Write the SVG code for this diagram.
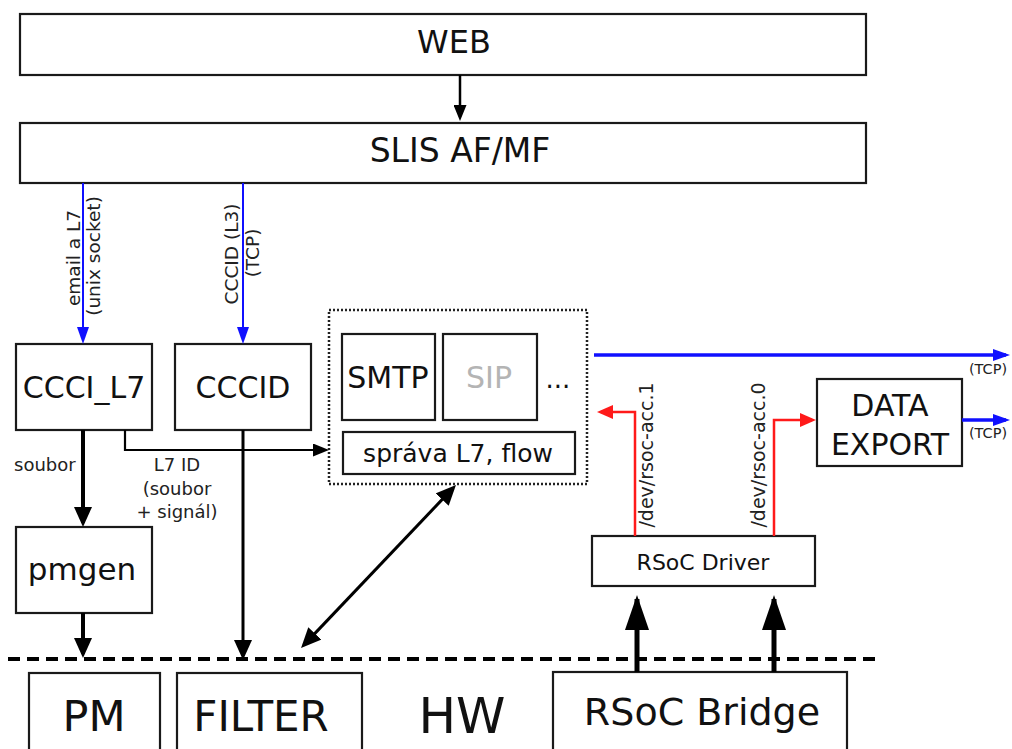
<svg xmlns="http://www.w3.org/2000/svg" width="1012" height="749" viewBox="0 0 1012 749">
<style>
.box{fill:#fff;stroke:#1a1a1a;stroke-width:2.2}
.t{font-family:"DejaVu Sans",sans-serif;fill:#111;text-anchor:middle}
.s{font-family:"DejaVu Sans",sans-serif;fill:#222}
.blk{fill:none;stroke:#000}
.blue{fill:none;stroke:#1010ff}
.red{fill:none;stroke:#ff1a1a}
</style>
<defs>
<marker id="aB" markerUnits="userSpaceOnUse" markerWidth="20" markerHeight="18" refX="16" refY="9" orient="auto-start-reverse"><path d="M0,0 L20,9 L0,18 z" fill="#000"/></marker>
<marker id="aS" markerUnits="userSpaceOnUse" markerWidth="16" markerHeight="13" refX="12" refY="6.5" orient="auto"><path d="M0,0 L16,6.5 L0,13 z" fill="#000"/></marker>
<marker id="aU" markerUnits="userSpaceOnUse" markerWidth="17" markerHeight="12" refX="13" refY="6" orient="auto"><path d="M0,0 L17,6 L0,12 z" fill="#1010ff"/></marker>
<marker id="aR" markerUnits="userSpaceOnUse" markerWidth="16" markerHeight="14" refX="12" refY="7" orient="auto"><path d="M0,0 L16,7 L0,14 z" fill="#ff1a1a"/></marker>
<marker id="aT" markerUnits="userSpaceOnUse" markerWidth="35" markerHeight="24" refX="31" refY="12" orient="auto"><path d="M0,0 L35,12 L0,24 z" fill="#000"/></marker>
</defs>

<g id="web"><rect class="box" x="20" y="14" width="846" height="61"/><text class="t" x="454" y="53" font-size="32">WEB</text></g>
<g id="slis"><rect class="box" x="20" y="123" width="846" height="60"/><text class="t" x="460" y="162" font-size="33">SLIS AF/MF</text></g>
<g id="ccci_l7"><rect class="box" x="16" y="344" width="136" height="86"/><text class="t" x="84" y="398" font-size="30">CCCI_L7</text></g>
<g id="cccid"><rect class="box" x="175" y="344" width="136" height="86"/><text class="t" x="243" y="398" font-size="30">CCCID</text></g>
<g id="pmgen"><rect class="box" x="16" y="527" width="136" height="86"/><text class="t" x="82" y="580" font-size="31">pmgen</text></g>
<g id="l7group">
<rect x="329" y="310" width="258" height="174" fill="none" stroke="#222" stroke-width="2.5" stroke-dasharray="2 2"/>
<rect class="box" x="342" y="334" width="93" height="86"/><text class="t" x="388" y="388" font-size="30">SMTP</text>
<rect class="box" x="443" y="334" width="94" height="86"/><text class="t" x="489" y="388" font-size="30" fill="#b4b4b4" style="fill:#b4b4b4">SIP</text>
<text class="t" x="558" y="388" font-size="26">...</text>
<rect class="box" x="343" y="432" width="232" height="42"/><text class="t" x="458" y="462" font-size="25">správa L7, flow</text>
</g>
<g id="data_export"><rect class="box" x="817" y="379" width="145" height="87"/><text class="t" x="890" y="416" font-size="30">DATA</text><text class="t" x="890" y="455" font-size="30">EXPORT</text></g>
<g id="rsoc_driver"><rect class="box" x="592" y="536" width="223" height="50"/><text class="t" x="703" y="570" font-size="22">RSoC Driver</text></g>
<g id="pm"><rect class="box" x="29" y="673" width="131" height="90"/><text class="t" x="94" y="731" font-size="43">PM</text></g>
<g id="filter"><rect class="box" x="177" y="673" width="185" height="90"/><text class="t" x="261" y="731" font-size="42">FILTER</text></g>
<g id="hw"><text class="t" x="462" y="733" font-size="50">HW</text></g>
<g id="rsoc_bridge"><rect class="box" x="553" y="672" width="294" height="90"/><text class="t" x="702" y="725" font-size="38">RSoC Bridge</text></g>

<g id="connectors">
<line x1="8" y1="659" x2="878" y2="659" stroke="#000" stroke-width="4" stroke-dasharray="12 7"/>
<line class="blk" x1="460" y1="75" x2="460" y2="117" stroke-width="2.5" marker-end="url(#aS)"/>
<line class="blue" x1="83" y1="183" x2="83" y2="340" stroke-width="2" marker-end="url(#aU)"/>
<line class="blue" x1="243" y1="183" x2="243" y2="340" stroke-width="2" marker-end="url(#aU)"/>
<line class="blk" x1="83" y1="430" x2="83" y2="523" stroke-width="4" marker-end="url(#aB)"/>
<line class="blk" x1="83" y1="613" x2="83" y2="654" stroke-width="4" marker-end="url(#aB)"/>
<line class="blk" x1="243" y1="430" x2="243" y2="656" stroke-width="3" marker-end="url(#aB)"/>
<path class="blk" d="M125,430 V450 H325" stroke-width="2.2" marker-end="url(#aS)"/>
<line class="blk" x1="453.2" y1="487.9" x2="303.8" y2="645.1" stroke-width="3" marker-start="url(#aB)" marker-end="url(#aB)"/>
<line class="blue" x1="594" y1="355" x2="1006" y2="355" stroke-width="3.5" marker-end="url(#aU)"/>
<line class="blue" x1="962" y1="420" x2="1006" y2="420" stroke-width="3.5" marker-end="url(#aU)"/>
<path class="red" d="M635,536 V412 H601" stroke-width="2.5" marker-end="url(#aR)"/>
<path class="red" d="M774,536 V420 H812" stroke-width="2.5" marker-end="url(#aR)"/>
<line class="blk" x1="637" y1="672" x2="637" y2="599" stroke-width="5" marker-end="url(#aT)"/>
<line class="blk" x1="774" y1="672" x2="774" y2="599" stroke-width="5" marker-end="url(#aT)"/>
</g>

<g id="labels">
<text class="s" font-size="18.5" text-anchor="middle" transform="translate(80,258) rotate(-90)">email a L7</text>
<text class="s" font-size="18.5" text-anchor="middle" transform="translate(100,256) rotate(-90)">(unix socket)</text>
<text class="s" font-size="18.5" text-anchor="middle" transform="translate(238,254) rotate(-90)">CCCID (L3)</text>
<text class="s" font-size="18.5" text-anchor="middle" transform="translate(259,253) rotate(-90)">(TCP)</text>
<text class="s" font-size="18" x="14" y="471">soubor</text>
<text class="s" font-size="18" text-anchor="middle" x="177" y="471">L7 ID</text>
<text class="s" font-size="18" text-anchor="middle" x="177" y="495">(soubor</text>
<text class="s" font-size="18" text-anchor="middle" x="177" y="518">+ signál)</text>
<text class="s" font-size="19" text-anchor="middle" transform="translate(653,455) rotate(-90)">/dev/rsoc-acc.1</text>
<text class="s" font-size="19" text-anchor="middle" transform="translate(765,455) rotate(-90)">/dev/rsoc-acc.0</text>
<text class="s" font-size="14.5" text-anchor="middle" x="988" y="374">(TCP)</text>
<text class="s" font-size="14.5" text-anchor="middle" x="988" y="438">(TCP)</text>
</g>
</svg>
